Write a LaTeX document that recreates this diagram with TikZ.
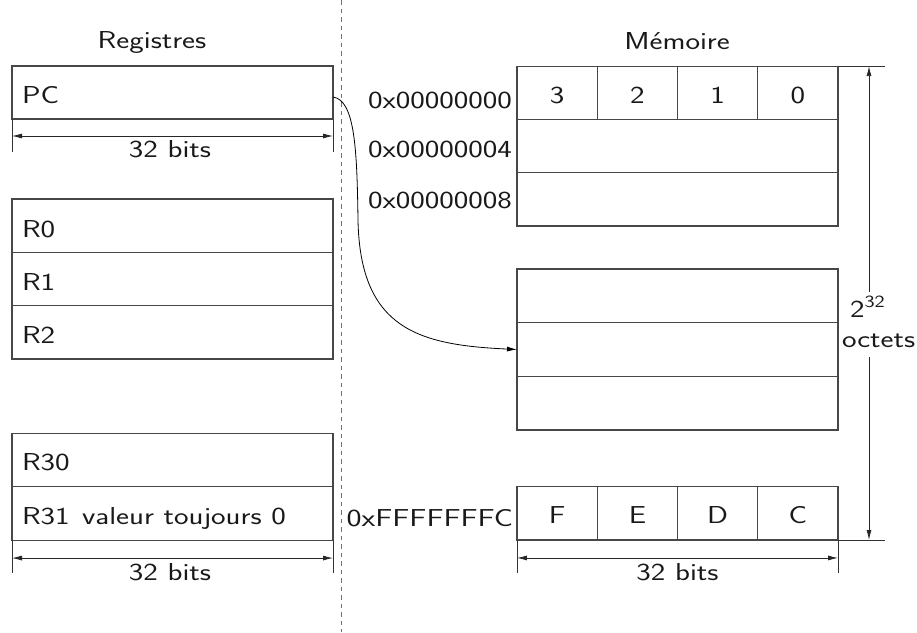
\documentclass[tikz,border=0pt]{standalone}
\usepackage{graphicx}
\usetikzlibrary{arrows.meta}
% labels are set in a horizontally widened Latin Modern Sans
\newcommand\hs[1]{\scalebox{1.26}[1]{#1}}
\definecolor{sepcol}{RGB}{80,112,214}
\begin{document}
\begin{tikzpicture}[x=1pt,y=-1pt,
  row/.style={draw=black!72,line width=1.1pt,inner sep=0pt,outer sep=0pt,
              minimum width=321pt,minimum height=#1},
  cell/.style={draw=black!72,line width=1.1pt,inner sep=0pt,outer sep=0pt,
              minimum width=80.25pt,minimum height=53.3pt},
  txt/.style={inner sep=0pt,outer sep=0pt,text=black!90,
              font=\sffamily\fontsize{24.5}{28}\selectfont},
  ext/.style={draw=black!80,line width=0.8pt},
  dimarrow/.style={draw=black!85,line width=0.8pt,
                   {Latex[length=10pt,width=5pt]}-{Latex[length=10pt,width=5pt]}},
  onearrow/.style={draw=black!85,line width=0.8pt,-{Latex[length=10pt,width=5pt]}},
  sepline/.style={draw=sepcol,line width=0.9pt,dash pattern=on 4.5pt off 4pt},
  link/.style={draw=black,line width=0.8pt,-{Latex[length=10pt,width=5pt]}}
]
\useasboundingbox (0,0) rectangle (917,632);

% separator between registers and memory
\coordinate (septop) at (341,0);
\coordinate (sepbot) at (341,632);
\draw[sepline] (septop) -- (sepbot);

% ---------------- registers ----------------
\node[txt,anchor=base] (regtitle) at (152,48) {\hs{Registres}};

\node[row=53pt] (pc) at (172.5,92.5) {};
\node[txt,anchor=base west] (pclbl) at (22,103) {\hs{PC}};
\draw[ext] (pc.south west) -- ++(0,33);
\draw[ext] (pc.south east) -- ++(0,33);
\draw[dimarrow] ([yshift=-17pt]pc.south west) -- ([yshift=-17pt]pc.south east);
\node[txt,anchor=base] (pcbits) at (170,157) {\hs{32 bits}};

\node[row=53.33pt] (r0) at (172.5,225.7) {};
\node[row=53.33pt] (r1) at (172.5,279.0) {};
\node[row=53.33pt] (r2) at (172.5,332.3) {};
\node[txt,anchor=base west] (r0lbl) at (22,237) {\hs{R0}};
\node[txt,anchor=base west] (r1lbl) at (22,290) {\hs{R1}};
\node[txt,anchor=base west] (r2lbl) at (22,343) {\hs{R2}};

\node[row=53.5pt] (r30) at (172.5,459.8) {};
\node[row=53.5pt] (r31) at (172.5,513.3) {};
\node[txt,anchor=base west] (r30lbl) at (22,470.5) {\hs{R30}};
\node[txt,anchor=base west] (r31lbl) at (22,524) {\hs{R31\hspace{0.4em}valeur toujours 0}};
\draw[ext] (r31.south west) -- ++(0,33);
\draw[ext] (r31.south east) -- ++(0,33);
\draw[dimarrow] ([yshift=-18pt]r31.south west) -- ([yshift=-18pt]r31.south east);
\node[txt,anchor=base] (regbits) at (170,580) {\hs{32 bits}};

% ---------------- memory ----------------
\node[txt,anchor=base] (memtitle) at (677,49) {\hs{Mémoire}};

\node[cell] (c3) at (557.1,92.7) {};
\node[cell] (c2) at (637.4,92.7) {};
\node[cell] (c1) at (717.6,92.7) {};
\node[cell] (c0) at (797.9,92.7) {};
\node[txt,anchor=base] (c3lbl) at (557.1,103) {\hs{3}};
\node[txt,anchor=base] (c2lbl) at (637.4,103) {\hs{2}};
\node[txt,anchor=base] (c1lbl) at (717.6,103) {\hs{1}};
\node[txt,anchor=base] (c0lbl) at (797.9,103) {\hs{0}};
\node[row=53.33pt] (ma) at (677.5,146.0) {};
\node[row=53.33pt] (mb) at (677.5,199.3) {};

\node[txt,anchor=base east] (a0) at (512,108) {\hs{0x00000000}};
\node[txt,anchor=base east] (a4) at (512,157) {\hs{0x00000004}};
\node[txt,anchor=base east] (a8) at (512,208) {\hs{0x00000008}};

\node[row=53.67pt] (m1) at (677.5,295.8) {};
\node[row=53.67pt] (m2) at (677.5,349.5) {};
\node[row=53.67pt] (m3) at (677.5,403.2) {};

\node[cell] (cF) at (557.1,513.3) {};
\node[cell] (cE) at (637.4,513.3) {};
\node[cell] (cD) at (717.6,513.3) {};
\node[cell] (cC) at (797.9,513.3) {};
\node[txt,anchor=base] (cFlbl) at (557.1,523) {\hs{F}};
\node[txt,anchor=base] (cElbl) at (637.4,523) {\hs{E}};
\node[txt,anchor=base] (cDlbl) at (717.6,523) {\hs{D}};
\node[txt,anchor=base] (cClbl) at (797.9,523) {\hs{C}};
\node[txt,anchor=base east] (aF) at (513,526) {\scalebox{1.3}[1]{0xFFFFFFFC}};

% width of a memory word
\draw[ext] (cF.south west) -- ++(0,33);
\draw[ext] (cC.south east) -- ++(0,33);
\draw[dimarrow] ([yshift=-18pt]cF.south west) -- ([yshift=-18pt]cC.south east);
\node[txt,anchor=base] (membits) at (677.5,580) {\hs{32 bits}};

% size of the address space
\draw[ext] (c0.north east) -- ++(47,0);
\draw[ext] (cC.south east) -- ++(47,0);
\coordinate (dtop) at (869,66.1);
\coordinate (dbot) at (869,540);
\coordinate (gaptop) at (869,292);
\coordinate (gapbot) at (869,357);
\draw[onearrow] (gaptop) -- (dtop);
\draw[onearrow] (gapbot) -- (dbot);
\node[txt,anchor=base west] (pow) at (850,317) {\hs{2\textsuperscript{32}}};
\node[txt,anchor=base west] (oct) at (842,347) {\hs{octets}};

% PC points into memory
\coordinate (pcout) at ([yshift=-4.5pt]pc.east);
\coordinate (bend) at (358,220);
\draw[link] (pcout) .. controls (355,100) and (357,150) .. (bend)
                    .. controls (360,330) and (420,345) .. (m2.west);
\end{tikzpicture}
\end{document}
